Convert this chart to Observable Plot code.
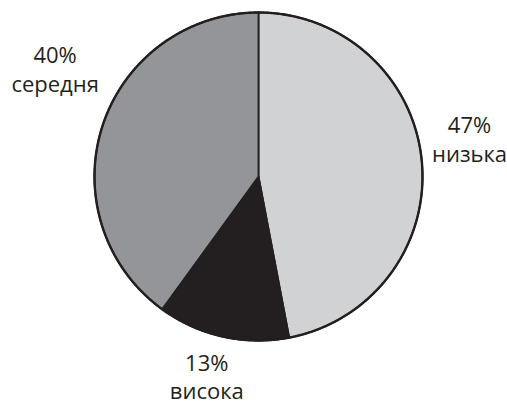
<!DOCTYPE html>
<html>
<head>
<meta charset="utf-8">
<script src="https://cdn.jsdelivr.net/npm/d3@7"></script>
<script src="https://cdn.jsdelivr.net/npm/@observablehq/plot@0.6"></script>
<style>
  html, body { margin: 0; padding: 0; background: #fff; }
</style>
</head>
<body>
<div id="chart"></div>
<script>
// Data
const categories = ["низька", "висока", "середня"];
const values = [47, 13, 40];
const percentLabels = ["47%", "13%", "40%"];
const colors = ["#d1d2d4", "#231f20", "#939598"];

// Pie layout from data (clockwise from 12 o'clock)
const arcs = d3.pie().sort(null).value(d => d.value)(
  categories.map((name, i) => ({name, value: values[i], label: percentLabels[i]}))
);

// Slice outlines as polygons in unit coordinates
const slicePoints = [];
arcs.forEach(a => {
  const name = a.data.name;
  slicePoints.push({name, x: 0, y: 0});
  const steps = Math.max(2, Math.ceil((a.endAngle - a.startAngle) / (Math.PI / 360)));
  for (let k = 0; k <= steps; k++) {
    const t = a.startAngle + (a.endAngle - a.startAngle) * k / steps;
    slicePoints.push({name, x: Math.sin(t), y: Math.cos(t)});
  }
});
const circlePoints = d3.range(0, 721).map(k => {
  const t = k / 720 * 2 * Math.PI;
  return {x: Math.sin(t), y: Math.cos(t)};
});

const labelR = 1.32;
const labels = arcs.map(a => {
  const m = (a.startAngle + a.endAngle) / 2;
  return {name: a.data.name, text: a.data.label + "\n" + a.data.name, x: labelR * Math.sin(m), y: labelR * Math.cos(m)};
});
const offsets = {"низька": [-4.5, 6], "висока": [-4.5, 11], "середня": [2.5, -18]};

const textMarks = labels.map(l => Plot.text([l], {
  x: "x", y: "y", text: "text",
  dx: offsets[l.name][0], dy: offsets[l.name][1],
  fontSize: 22, lineHeight: l.name === "висока" ? 1.28 : 1.32, lineAnchor: "bottom", fill: "#231f20",
  fontFamily: "'Open Sans', sans-serif", textAnchor: "middle"
}));

const chart = Plot.plot({
  width: 507,
  height: 405,
  margin: 0,
  x: {domain: [-1, 1], range: [94, 422], axis: null},
  y: {domain: [-1, 1], range: [340, 12], axis: null},
  color: {domain: categories, range: colors},
  marks: [
    Plot.line(slicePoints, {
      x: "x", y: "y", z: "name", fill: "name",
      stroke: "#231f20", strokeWidth: 1.8, strokeLinejoin: "miter",
      curve: "linear-closed"
    }),
    Plot.line(circlePoints, {x: "x", y: "y", stroke: "#231f20", strokeWidth: 2.4}),
    ...textMarks
  ]
});
document.getElementById("chart").appendChild(chart);
</script>
</body>
</html>
